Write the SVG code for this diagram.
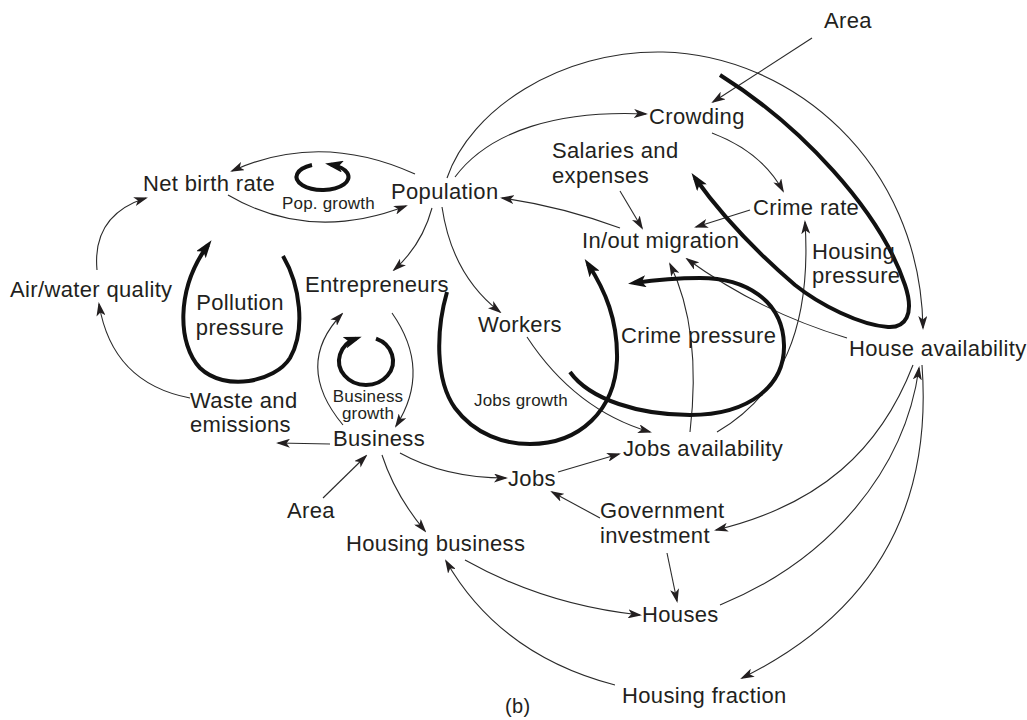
<svg xmlns="http://www.w3.org/2000/svg" width="1027" height="720" viewBox="0 0 1027 720">
  <style>
    .lbl { font-family: "Liberation Sans", Arial, Helvetica, sans-serif; font-size: 22px; letter-spacing: 0.35px; fill: #231f20; }
    .sm { font-family: "Liberation Sans", Arial, Helvetica, sans-serif; font-size: 17px; letter-spacing: 0.2px; fill: #231f20; }
    .thin { fill: none; stroke: #2a2a2a; stroke-width: 1.1; marker-end: url(#arr); }
    .loop { fill: none; stroke: #111; stroke-width: 4; stroke-linecap: butt; marker-end: url(#arrT); }
  </style>
  <defs>
    <marker id="arr" viewBox="0 0 14 9" refX="12" refY="4.5" markerWidth="14" markerHeight="9" orient="auto" markerUnits="userSpaceOnUse">
      <path d="M0,0 L14,4.5 L0,9 L3.5,4.5 z" fill="#231f20"/>
    </marker>
    <marker id="arrT" viewBox="0 0 18 12" refX="12" refY="6" markerWidth="18" markerHeight="12" orient="auto" markerUnits="userSpaceOnUse">
      <path d="M0,0 L18,6 L0,12 L4,6 z" fill="#111"/>
    </marker>
  </defs>
  <rect width="1027" height="720" fill="#ffffff"/>

  <!-- causal links -->
  <g id="connectors">
    <path class="thin" d="M415,174 Q320,131 232,171"/>
    <path class="thin" d="M228,195 Q310,243 406,206"/>
    <path class="thin" d="M97,270 Q92,215 146,198"/>
    <path class="thin" d="M190,398 Q112,383 99,304"/>
    <path class="thin" d="M432,208 Q422,245 394,270"/>
    <path class="thin" d="M442,207 Q452,275 500,312"/>
    <path class="thin" d="M455,177 C490,130 560,110 646,114"/>
    <path class="thin" d="M447,178 C470,110 560,50 663,52 C790,55 920,160 923,328"/>
    <path class="thin" d="M812,38 L713,102"/>
    <path class="thin" d="M712,133 Q762,152 783,191"/>
    <path class="thin" d="M620,191 L642,228"/>
    <path class="thin" d="M750,210 L696,227"/>
    <path class="thin" d="M620,228 Q560,206 502,198"/>
    <path class="thin" d="M717,432 C780,395 812,330 805,222"/>
    <path class="thin" d="M690,432 Q702,330 670,264"/>
    <path class="thin" d="M847,338 Q760,312 687,259"/>
    <path class="thin" d="M527,337 Q575,410 650,432"/>
    <path class="thin" d="M392,313 Q432,370 396,426"/>
    <path class="thin" d="M343,425 Q293,365 342,314"/>
    <path class="thin" d="M330,444 L278,443"/>
    <path class="thin" d="M400,453 Q445,478 506,478"/>
    <path class="thin" d="M558,472 L619,454"/>
    <path class="thin" d="M600,518 L552,492"/>
    <path class="thin" d="M323,498 L366,456"/>
    <path class="thin" d="M382,455 Q395,495 425,531"/>
    <path class="thin" d="M667,553 L677,601"/>
    <path class="thin" d="M465,560 Q545,605 640,615"/>
    <path class="thin" d="M615,685 Q500,655 446,561"/>
    <path class="thin" d="M720,605 C830,560 905,470 919,368"/>
    <path class="thin" d="M913,365 C880,450 820,505 716,530"/>
    <path class="thin" d="M922,365 C932,500 880,610 742,678"/>
  </g>

  <!-- feedback loops -->
  <g id="loop-pop-growth">
    <path class="loop" d="M312,165 A26,13 0 1 0 331,164.6"/>
    <text class="sm" x="282" y="209">Pop. growth</text>
  </g>
  <g id="loop-pollution">
    <path class="loop" d="M283,256 C300,285 306,330 290,358 C275,382 225,392 200,368 C178,345 175,290 208,245"/>
    <text class="lbl" x="240" y="310" text-anchor="middle">Pollution</text>
    <text class="lbl" x="240" y="335" text-anchor="middle">pressure</text>
  </g>
  <g id="loop-business-growth">
    <path class="loop" d="M376,338.7 A27,24 0 1 1 356,338.7"/>
    <text class="sm" x="368" y="402" text-anchor="middle">Business</text>
    <text class="sm" x="368" y="419" text-anchor="middle">growth</text>
  </g>
  <g id="loop-jobs-growth">
    <path class="loop" d="M447,292 C436,330 435,380 455,408 C475,435 505,444 530,444 C580,444 615,410 617,360 C618,320 605,290 588,264"/>
    <text class="sm" x="474" y="406">Jobs growth</text>
  </g>
  <g id="loop-crime-pressure">
    <path class="loop" d="M570,372 C590,400 640,415 690,415 C750,415 785,385 784,345 C783,300 745,278 700,278 C680,278 655,280 634,283"/>
    <text class="lbl" x="621" y="343">Crime pressure</text>
  </g>
  <g id="loop-housing-pressure">
    <path class="loop" d="M720,75 C800,125 880,210 905,285 C915,315 905,328 888,327 C860,325 820,305 795,285 C760,255 725,220 695,178"/>
    <text class="lbl" x="812" y="259">Housing</text>
    <text class="lbl" x="812" y="283">pressure</text>
  </g>

  <!-- variables -->
  <g id="area-top"><text class="lbl" x="824" y="28">Area</text></g>
  <g id="crowding"><text class="lbl" x="649" y="124">Crowding</text></g>
  <g id="salaries"><text class="lbl" x="552" y="158">Salaries and</text><text class="lbl" x="552" y="183">expenses</text></g>
  <g id="net-birth-rate"><text class="lbl" x="143" y="191">Net birth rate</text></g>
  <g id="population"><text class="lbl" x="391" y="199">Population</text></g>
  <g id="crime-rate"><text class="lbl" x="753" y="215">Crime rate</text></g>
  <g id="migration"><text class="lbl" x="582" y="248">In/out migration</text></g>
  <g id="air-water"><text class="lbl" x="10" y="297">Air/water quality</text></g>
  <g id="entrepreneurs"><text class="lbl" x="305" y="292">Entrepreneurs</text></g>
  <g id="workers"><text class="lbl" x="478" y="332">Workers</text></g>
  <g id="house-availability"><text class="lbl" x="849" y="356">House availability</text></g>
  <g id="waste"><text class="lbl" x="190" y="408">Waste and</text><text class="lbl" x="190" y="432">emissions</text></g>
  <g id="business"><text class="lbl" x="333" y="446">Business</text></g>
  <g id="jobs-availability"><text class="lbl" x="623" y="456">Jobs availability</text></g>
  <g id="jobs"><text class="lbl" x="508" y="486">Jobs</text></g>
  <g id="area-bottom"><text class="lbl" x="287" y="518">Area</text></g>
  <g id="government"><text class="lbl" x="600" y="518">Government</text><text class="lbl" x="600" y="543">investment</text></g>
  <g id="housing-business"><text class="lbl" x="346" y="551">Housing business</text></g>
  <g id="houses"><text class="lbl" x="642" y="622">Houses</text></g>
  <g id="housing-fraction"><text class="lbl" x="622" y="703">Housing fraction</text></g>
  <text class="lbl" x="505" y="713" style="font-size:20px">(b)</text>
</svg>
